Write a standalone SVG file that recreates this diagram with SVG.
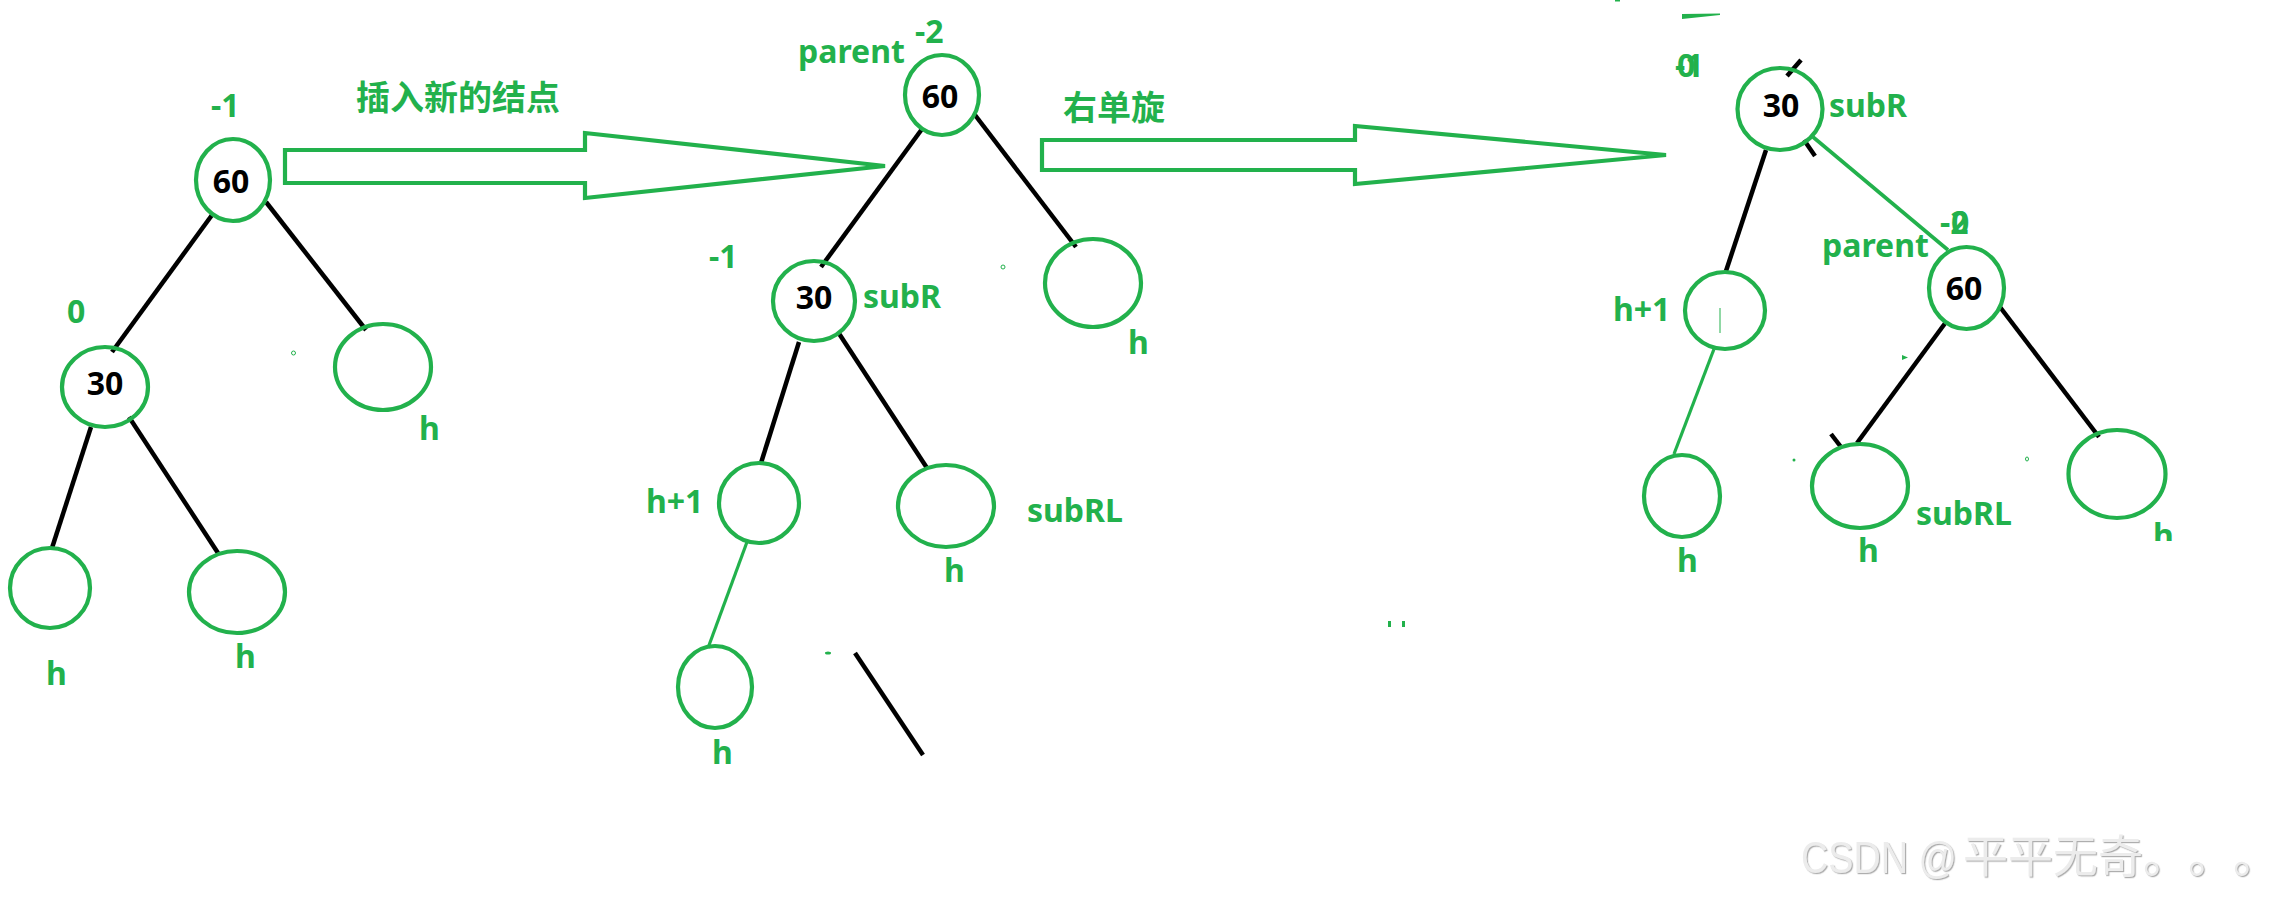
<svg xmlns="http://www.w3.org/2000/svg" width="2282" height="897" viewBox="0 0 2282 897">
<style>
  .nd{fill:none;stroke:#22b14c;stroke-width:4.2}
  .lbl{font-family:"Noto Sans","Liberation Sans",sans-serif;font-weight:700;font-size:32px;fill:#22b14c}
  .num{font-family:"Noto Sans","Liberation Sans",sans-serif;font-weight:700;font-size:32px;fill:#000;text-anchor:middle}
  .cjk{font-family:"Noto Sans CJK SC","Noto Sans",sans-serif;font-weight:700;font-size:34px;fill:#22b14c}
  .ek{stroke:#000;stroke-width:4.5;stroke-linecap:butt;fill:none}
  .eg{stroke:#22b14c;stroke-width:3.2;fill:none}
  .arr{fill:none;stroke:#22b14c;stroke-width:4.2;stroke-linejoin:miter}
  .dot{fill:#22b14c}
  .wm{font-family:"Liberation Sans","Noto Sans CJK SC",sans-serif;font-size:44px;fill:#ececec}
</style>
<defs>
  <filter id="emb" x="-5%" y="-30%" width="110%" height="160%">
    <feDropShadow dx="1.2" dy="1.2" stdDeviation="0.6" flood-color="#9a9a9a" flood-opacity="0.8"/>
  </filter>
  <clipPath id="clipH"><rect x="2140" y="500" width="40" height="41"/></clipPath>
</defs>
<rect width="2282" height="897" fill="#fff"/>

<!-- connectors -->
<g id="connectors">
  <!-- left tree -->
  <line class="ek" x1="212" y1="215" x2="112" y2="352"/>
  <line class="ek" x1="266" y1="202" x2="366" y2="330"/>
  <line class="ek" x1="91" y1="427" x2="52" y2="548"/>
  <line class="ek" x1="129" y1="417" x2="218" y2="553"/>
  <!-- middle tree -->
  <line class="ek" x1="922" y1="129" x2="821" y2="267"/>
  <line class="ek" x1="975" y1="115" x2="1076" y2="247"/>
  <line class="ek" x1="799" y1="342" x2="761" y2="463"/>
  <line class="ek" x1="838" y1="332" x2="927" y2="468"/>
  <line class="eg" x1="747" y1="542" x2="708" y2="648"/>
  <line class="ek" x1="855" y1="653" x2="923" y2="755"/>
  <!-- right tree -->
  <line class="ek" x1="1787" y1="76" x2="1801" y2="60"/>
  <line class="ek" x1="1766" y1="150" x2="1726" y2="271"/>
  <line class="ek" x1="1804" y1="140" x2="1815" y2="156"/>
  <line class="eg" x1="1813" y1="137" x2="1948" y2="250" style="stroke-width:3.6"/>
  <line class="eg" x1="1714" y1="349" x2="1674" y2="454"/>
  <line class="ek" x1="1946" y1="322" x2="1857" y2="443"/>
  <line class="ek" x1="2000" y1="307" x2="2099" y2="437"/>
  <line class="ek" x1="1831" y1="434" x2="1841" y2="447"/>
  <line x1="1720" y1="308" x2="1720" y2="333" stroke="#22b14c" stroke-width="1"/>
</g>

<!-- big arrows -->
<g id="arrow1">
  <polygon class="arr" points="285,150 585,150 585,133 885,166 585,198 585,183 285,183"/>
  <text class="cjk" x="356" y="110">插入新的结点</text>
</g>
<g id="arrow2">
  <polygon class="arr" points="1042,140 1355,140 1355,126 1666,155 1355,184 1355,170 1042,170"/>
  <text class="cjk" x="1063" y="120">右单旋</text>
</g>

<!-- left tree nodes -->
<g id="L60">
  <ellipse class="nd" cx="233" cy="180" rx="37" ry="41"/>
  <text class="num" x="231" y="193">60</text>
  <text class="lbl" x="211" y="117">-1</text>
</g>
<g id="L30">
  <ellipse class="nd" cx="105" cy="387" rx="43" ry="40"/>
  <text class="num" x="105" y="395">30</text>
  <text class="lbl" x="67" y="323">0</text>
</g>
<g id="Lright">
  <ellipse class="nd" cx="383" cy="367" rx="48" ry="43"/>
  <text class="lbl" x="419" y="440">h</text>
</g>
<g id="Lleaf1">
  <ellipse class="nd" cx="50" cy="588" rx="40" ry="40"/>
  <text class="lbl" x="46" y="685">h</text>
</g>
<g id="Lleaf2">
  <ellipse class="nd" cx="237" cy="592" rx="48" ry="41"/>
  <text class="lbl" x="235" y="668">h</text>
</g>

<!-- middle tree nodes -->
<g id="M60">
  <ellipse class="nd" cx="942" cy="95" rx="37" ry="40"/>
  <text class="num" x="940" y="108">60</text>
  <text class="lbl" x="915" y="43">-2</text>
  <text class="lbl" x="798" y="63">parent</text>
</g>
<g id="M30">
  <ellipse class="nd" cx="814" cy="301" rx="41" ry="40"/>
  <text class="num" x="814" y="309">30</text>
  <text class="lbl" x="709" y="268">-1</text>
  <text class="lbl" x="863" y="308">subR</text>
</g>
<g id="Mright">
  <ellipse class="nd" cx="1093" cy="283" rx="48" ry="44"/>
  <text class="lbl" x="1128" y="354">h</text>
</g>
<g id="Mh1">
  <ellipse class="nd" cx="759" cy="503" rx="40" ry="40"/>
  <text class="lbl" x="646" y="513">h+1</text>
</g>
<g id="MsubRL">
  <ellipse class="nd" cx="946" cy="506" rx="48" ry="41"/>
  <text class="lbl" x="1027" y="522">subRL</text>
  <text class="lbl" x="944" y="582">h</text>
</g>
<g id="Mbottom">
  <ellipse class="nd" cx="715" cy="687" rx="37" ry="41"/>
  <text class="lbl" x="712" y="764">h</text>
</g>

<!-- right tree nodes -->
<g id="R30">
  <ellipse class="nd" cx="1780" cy="109" rx="42.5" ry="41"/>
  <text class="num" x="1781" y="117">30</text>
  <text class="lbl" x="1829" y="117">subR</text>
  <text class="lbl" x="1675" y="77">-1</text>
  <text class="lbl" x="1677" y="77">0</text>
</g>
<g id="R60">
  <ellipse class="nd" cx="1966.5" cy="288" rx="37.5" ry="41"/>
  <text class="num" x="1964" y="300">60</text>
  <text class="lbl" x="1822" y="257">parent</text>
  <text class="lbl" x="1940" y="234">-2</text>
  <text class="lbl" x="1951" y="234">0</text>
</g>
<g id="Rh1">
  <ellipse class="nd" cx="1725" cy="310.5" rx="40" ry="38.5"/>
  <text class="lbl" x="1613" y="321">h+1</text>
</g>
<g id="Rbottom">
  <ellipse class="nd" cx="1682" cy="496" rx="38" ry="41"/>
  <text class="lbl" x="1677" y="572">h</text>
</g>
<g id="RsubRL">
  <ellipse class="nd" cx="1860" cy="486" rx="48" ry="42"/>
  <text class="lbl" x="1916" y="525">subRL</text>
  <text class="lbl" x="1858" y="562">h</text>
</g>
<g id="Rright">
  <ellipse class="nd" cx="2117" cy="474" rx="48.5" ry="44"/>
  <text class="lbl" x="2153" y="547" clip-path="url(#clipH)">h</text>
</g>

<!-- stray marks -->
<g id="marks">
  <ellipse cx="293.5" cy="353" rx="2" ry="2" fill="none" stroke="#22b14c" stroke-width="1"/>
  <ellipse cx="1003" cy="267" rx="2" ry="2" fill="none" stroke="#22b14c" stroke-width="1"/>
  <ellipse cx="828" cy="653" rx="3" ry="1.5" class="dot"/>
  <rect x="1388" y="621" width="3" height="6" class="dot"/>
  <rect x="1402" y="621" width="3" height="6" class="dot"/>
  <rect x="1615" y="0" width="5" height="1.5" class="dot"/>
  <polygon class="dot" points="1682,14 1720,13.5 1720,15 1682,19"/>
  <polygon class="dot" points="1902,355 1908,357.5 1902,360"/>
  <ellipse cx="1794" cy="460" rx="1.5" ry="1.5" class="dot"/>
  <ellipse cx="2027" cy="459" rx="1.5" ry="2" fill="none" stroke="#22b14c" stroke-width="1"/>
</g>

<!-- watermark -->
<text class="wm" y="873" filter="url(#emb)"><tspan x="1801" textLength="156" lengthAdjust="spacingAndGlyphs">CSDN @</tspan><tspan font-family="Noto Sans CJK SC, sans-serif" font-size="45" x="1963 2008 2053 2098 2143 2188 2233">平平无奇。。。</tspan></text>
</svg>
